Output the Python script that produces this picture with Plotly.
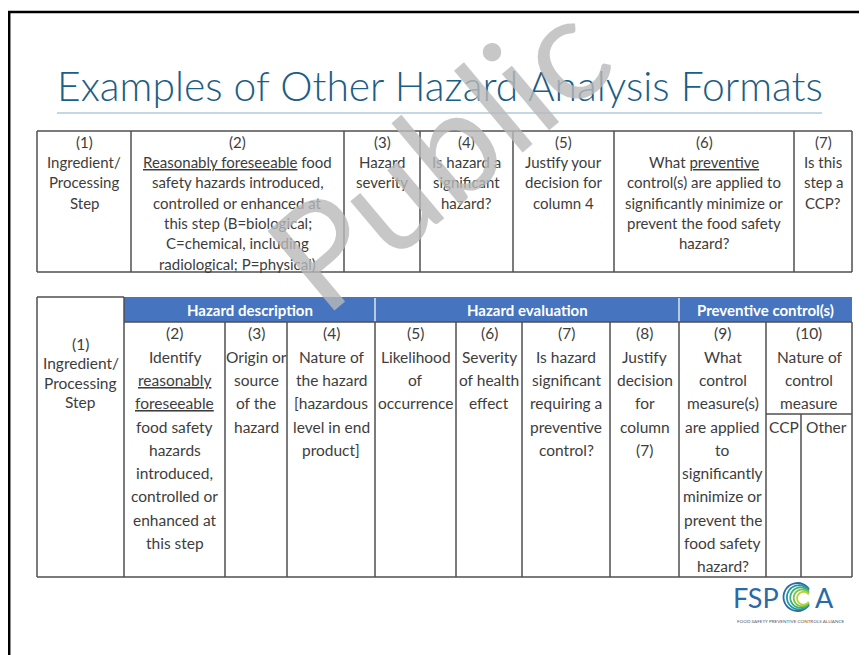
import numpy as np
import plotly.graph_objects as go

# ---------------- content ----------------
title_text = "Examples of Other Hazard Analysis Formats"

top_cells = [
    ["(1)", "Ingredient/", "Processing", "Step"],
    ["(2)", "<u>Reasonably foreseeable</u> food", "safety hazards introduced,",
     "controlled or enhanced at", "this step (B=biological;",
     "C=chemical, including", "radiological; P=physical)"],
    ["(3)", "Hazard", "severity"],
    ["(4)", "Is hazard a", "significant", "hazard?"],
    ["(5)", "Justify your", "decision for", "column 4"],
    ["(6)", "What <u>preventive</u>", "control(s) are applied to",
     "significantly minimize or", "prevent the food safety", "hazard?"],
    ["(7)", "Is this", "step a", "CCP?"],
]

group_labels = ["Hazard description", "Hazard evaluation", "Preventive control(s)"]

bottom_first = ["(1)", "Ingredient/", "Processing", "Step"]
bottom_cells = [
    ["(2)", "Identify", "<u>reasonably</u>", "<u>foreseeable</u>", "food safety",
     "hazards", "introduced,", "controlled or", "enhanced at", "this step"],
    ["(3)", "Origin or", "source", "of the", "hazard"],
    ["(4)", "Nature of", "the hazard", "[hazardous", "level in end", "product]"],
    ["(5)", "Likelihood", "of", "occurrence"],
    ["(6)", "Severity", "of health", "effect"],
    ["(7)", "Is hazard", "significant", "requiring a", "preventive", "control?"],
    ["(8)", "Justify", "decision", "for", "column", "(7)"],
    ["(9)", "What", "control", "measure(s)", "are applied", "to", "significantly",
     "minimize or", "prevent the", "food safety", "hazard?"],
    ["(10)", "Nature of", "control", "measure"],
]
sub_labels = ["CCP", "Other"]

logo_letters = ["FSP", "A"]
logo_tagline = "FOOD SAFETY PREVENTIVE CONTROLS ALLIANCE"
watermark_text = "Public"

# ---------------- geometry / style ----------------
W, H = 867, 655
OFF = 8  # page body margin of the html page
FONT = "Lato, 'Open Sans', sans-serif"
TXT = "#3d3d3d"
LINE = "#4f4f4f"
BLUE = "#4674BE"

TOP_X = [37, 131, 344, 420, 513, 614, 794, 852]
TOP_Y0, TOP_Y1 = 131, 272
TOP_T0, TOP_DT = 141.7, 20.3

BOT_X = [37, 124, 225, 287, 375, 456, 522, 610, 679, 766, 852]
BOT_Y0, HEAD_Y1, BOT_Y1 = 297, 322, 577
BOT_T0, BOT_DT = 333.3, 23.3
SUB_Y, SUB_X = 414, 801
GROUP_SPANS = [(1, 4), (4, 8), (8, 10)]

shapes = []
annots = []


def hline(x0, x1, y, color=LINE, w=1.5):
    shapes.append(dict(type="line", x0=x0, x1=x1, y0=y, y1=y,
                       line=dict(color=color, width=w), xref="x", yref="y"))


def vline(x, y0, y1, color=LINE, w=1.5):
    shapes.append(dict(type="line", x0=x, x1=x, y0=y0, y1=y1,
                       line=dict(color=color, width=w), xref="x", yref="y"))


def txt(x, y, s, size=15, color=TXT, bold=False, **kw):
    annots.append(dict(x=x, y=y, xref="x", yref="y", text=s, showarrow=False,
                       xanchor="center", yanchor="middle",
                       font=dict(family=FONT, size=size, color=color,
                                 weight="bold" if bold else "normal"), **kw))


# slide frame (black border on top and left)
hline(7, W, 12, color="#000000", w=2.5)
vline(9.2, 11, H, color="#000000", w=2.5)

# title + rule
annots.append(dict(x=439.5, y=85, xref="x", yref="y", text=title_text, showarrow=False,
                   xanchor="center", yanchor="middle",
                   font=dict(family="Lato", size=40.8, color="#1B5E86", weight=300)))
hline(57, 822, 113, color="#8DB0C9", w=1.2)

# ---- top table ----
for x in TOP_X:
    vline(x, TOP_Y0, TOP_Y1)
hline(TOP_X[0], TOP_X[-1], TOP_Y0)
hline(TOP_X[0], TOP_X[-1], TOP_Y1)
for i, lines in enumerate(top_cells):
    cx = (TOP_X[i] + TOP_X[i + 1]) / 2
    for k, s in enumerate(lines):
        txt(cx, TOP_T0 + k * TOP_DT, s, size=15)

# ---- bottom table ----
shapes.append(dict(type="rect", x0=BOT_X[1], x1=BOT_X[-1], y0=BOT_Y0, y1=HEAD_Y1,
                   fillcolor=BLUE, line=dict(width=0), xref="x", yref="y", layer="below"))
for a, b in GROUP_SPANS[1:]:
    vline(BOT_X[a], BOT_Y0 + 1, HEAD_Y1, color="#DCE6F2", w=1.5)
vline(BOT_X[0], BOT_Y0, BOT_Y1)
vline(BOT_X[1], BOT_Y0, BOT_Y1)
for x in BOT_X[2:-1]:
    vline(x, HEAD_Y1, BOT_Y1)
vline(BOT_X[-1], HEAD_Y1, BOT_Y1)
hline(BOT_X[0], BOT_X[1], BOT_Y0)
hline(BOT_X[1], BOT_X[-1], HEAD_Y1)
hline(BOT_X[0], BOT_X[-1], BOT_Y1)
hline(BOT_X[-2], BOT_X[-1], SUB_Y)
vline(SUB_X, SUB_Y, BOT_Y1)

for (a, b), lab in zip(GROUP_SPANS, group_labels):
    txt((BOT_X[a] + BOT_X[b]) / 2, (BOT_Y0 + HEAD_Y1) / 2 + 0.5, lab,
        size=15, color="#FFFFFF", bold=True)

cx1 = (BOT_X[0] + BOT_X[1]) / 2
for k, s in enumerate(bottom_first):
    txt(cx1, 343.5 + k * 19.6, s, size=15.5)

for i, lines in enumerate(bottom_cells):
    cx = (BOT_X[i + 1] + BOT_X[i + 2]) / 2
    for k, s in enumerate(lines):
        txt(cx, BOT_T0 + k * BOT_DT, s, size=15.5)

sub_edges = [BOT_X[-2], SUB_X, BOT_X[-1]]
for j, s in enumerate(sub_labels):
    txt((sub_edges[j] + sub_edges[j + 1]) / 2, BOT_T0 + 4 * BOT_DT, s, size=15.5)

# ---- logo ----
annots.append(dict(x=781, y=597, xref="x", yref="y", text=logo_letters[0], showarrow=False,
                   xanchor="right", yanchor="middle",
                   font=dict(family="Lato", size=27, color="#2A6AA6", weight=400)))
annots.append(dict(x=813, y=597, xref="x", yref="y", text=logo_letters[1], showarrow=False,
                   xanchor="left", yanchor="middle",
                   font=dict(family="Lato", size=27, color="#2A6AA6", weight=400)))
arc_cols = ["#2A6AA6", "#1F9BA0", "#3FAE7A", "#7DC243", "#B5D334"]
for j, col in enumerate(arc_cols):
    r = 14 - j * 1.9
    cxl, cyl = 797.5 + j * 1.5, 597 + j * 0.3
    th = np.linspace(np.deg2rad(35), np.deg2rad(325), 34)
    pts = [(cxl + r * np.cos(t), cyl - r * np.sin(t)) for t in th]
    path = "M " + " L ".join(f"{px:.2f},{py:.2f}" for px, py in pts)
    shapes.append(dict(type="path", path=path, xref="x", yref="y",
                       line=dict(color=col, width=1.8)))
annots.append(dict(x=791, y=620.5, xref="x", yref="y", text=logo_tagline, showarrow=False,
                   xanchor="center", yanchor="middle",
                   font=dict(family="Lato", size=4.6, color="#555555")))

# ---- watermark ----
annots.append(dict(x=436, y=152, xref="x", yref="y", text=watermark_text, showarrow=False,
                   xanchor="center", yanchor="middle", textangle=-40,
                   font=dict(family="Lato", size=145, color="rgba(185,185,185,0.80)")))

fig = go.Figure()
fig.add_trace(go.Scatter(x=[], y=[], mode="markers", showlegend=False, hoverinfo="skip"))
fig.update_layout(
    width=W - OFF, height=H - OFF,
    margin=dict(l=0, r=0, t=0, b=0),
    paper_bgcolor="white", plot_bgcolor="white",
    xaxis=dict(range=[OFF, W], visible=False, fixedrange=True),
    yaxis=dict(range=[H, OFF], visible=False, fixedrange=True),
    shapes=shapes, annotations=annots, showlegend=False,
)
fig.write_html("out.html")
